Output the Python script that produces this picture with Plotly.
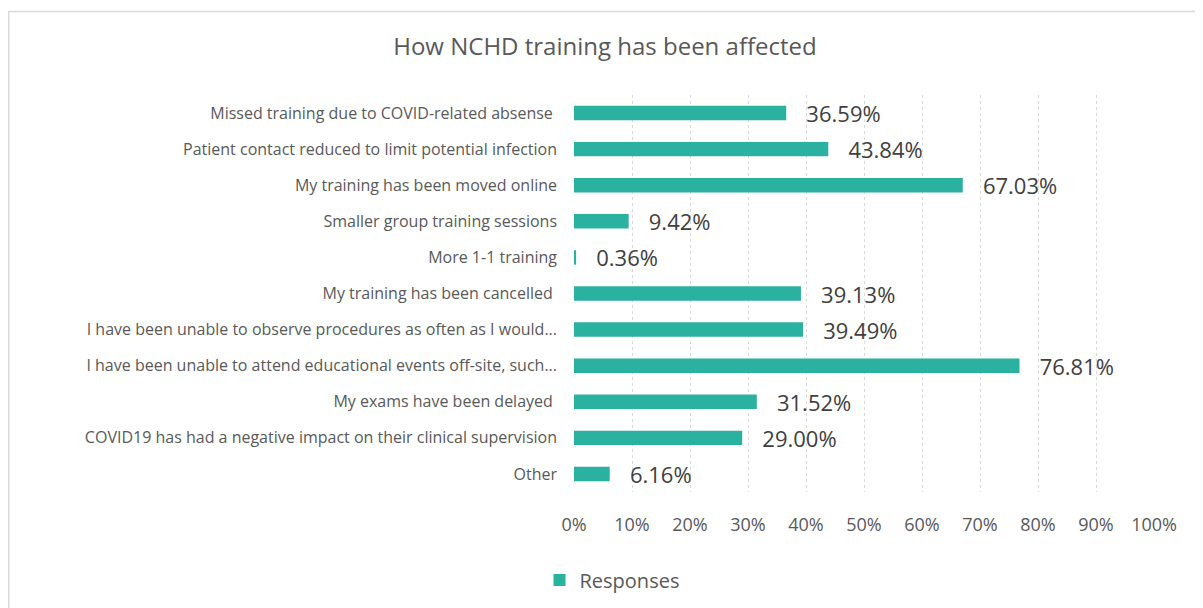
import plotly.graph_objects as go

# survey answers, top to bottom as in the chart
categories = [
    "Missed training due to COVID-related absense ",
    "Patient contact reduced to limit potential infection",
    "My training has been moved online",
    "Smaller group training sessions",
    "More 1-1 training",
    "My training has been cancelled ",
    "I have been unable to observe procedures as often as I would...",
    "I have been unable to attend educational events off-site, such...",
    "My exams have been delayed ",
    "COVID19 has had a negative impact on their clinical supervision",
    "Other",
]
responses = [36.59, 43.84, 67.03, 9.42, 0.36, 39.13, 39.49, 76.81, 31.52, 29.00, 6.16]
tick_vals = [0, 10, 20, 30, 40, 50, 60, 70, 80, 90, 100]
tick_text = ["0%", "10%", "20%", "30%", "40%", "50%", "60%", "70%", "80%", "90%", "100%"]

teal = "#2bb19f"
grey_text = "#595959"
font_name = "Open Sans"

# the page has an 8px body margin, so the figure is 8px smaller than the window
W, H = 1195, 600
L, R, T, B = 566, 49, 87, 116
pw, ph = W - L - R, H - T - B

fig = go.Figure(go.Bar(
    name="Responses",
    y=categories,
    x=responses,
    orientation="h",
    width=0.4,
    marker=dict(color=teal, line=dict(width=0)),
    texttemplate="\u00a0\u00a0\u00a0%{x:.2f}%",
    textposition="outside",
    constraintext="none",
    textfont=dict(family=font_name, size=22, color="#404040"),
    cliponaxis=False,
))

fig.update_layout(
    width=W, height=H,
    margin=dict(l=L, r=R, t=T, b=B),
    paper_bgcolor="white", plot_bgcolor="white",
    font=dict(family=font_name, color=grey_text),
    title=dict(text="How NCHD training has been affected", x=(605 - 8) / W, xref="container",
               xanchor="center", y=1 - (47 - 8) / H, yref="container", yanchor="middle",
               font=dict(size=24, color=grey_text)),
    showlegend=True,
    legend=dict(orientation="h", xref="container", yref="container", x=(612 - 8) / W,
                y=1 - (580 - 8) / H, xanchor="center", yanchor="middle",
                font=dict(size=20, color=grey_text)),
    xaxis=dict(range=[0, 100], tickvals=tick_vals, ticktext=tick_text,
               showgrid=True, gridcolor="#d9d9d9", griddash="dot", gridwidth=1,
               zeroline=False, showline=False, ticks="", ticklabelstandoff=20,
               tickfont=dict(size=18, color=grey_text), fixedrange=True),
    yaxis=dict(autorange="reversed", showgrid=False, showline=False, ticks="",
               ticklabelstandoff=16, tickfont=dict(size=16, color=grey_text)),
    bargap=0.6,
)

# light frame around the chart (top and left edges are visible in the original)
top = 1 + (T - 3.5) / ph
fig.add_shape(type="line", xref="paper", yref="paper",
              x0=-L / pw, x1=(W - L) / pw, y0=top, y1=top,
              line=dict(color="#d9d9d9", width=1.5))
fig.add_shape(type="line", xref="paper", yref="paper",
              x0=(0.8 - L) / pw, x1=(0.8 - L) / pw, y0=top, y1=-B / ph - 0.05,
              line=dict(color="#d9d9d9", width=1.5))

fig.write_html("out.html")
